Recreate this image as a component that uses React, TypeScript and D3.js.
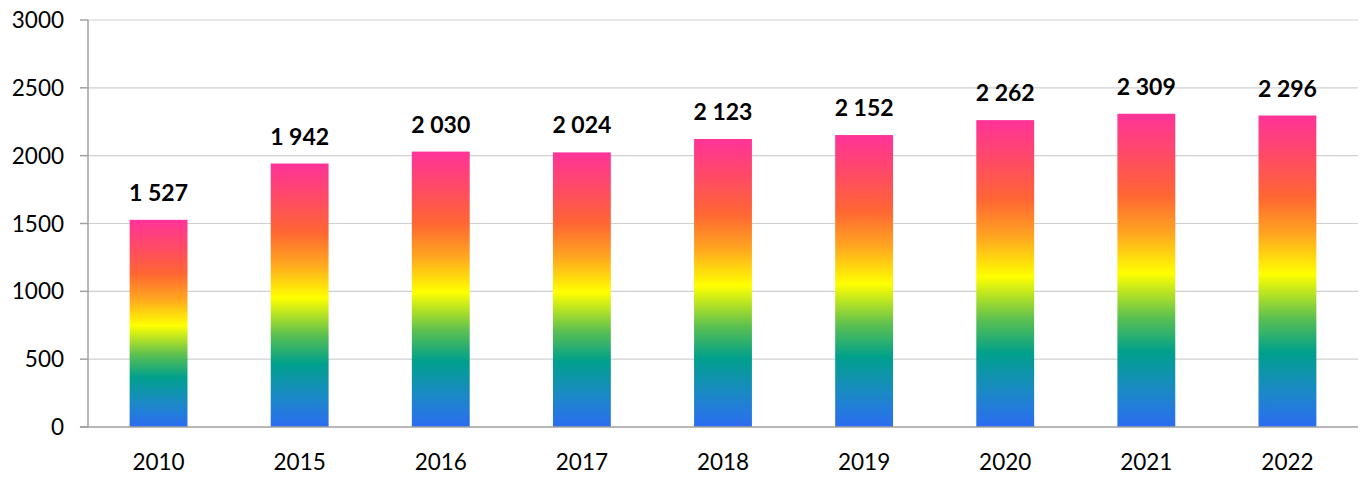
import React from "react";
import * as d3 from "d3";

const categories = ["2010", "2015", "2016", "2017", "2018", "2019", "2020", "2021", "2022"];
const values = [1527, 1942, 2030, 2024, 2123, 2152, 2262, 2309, 2296];
const yTicks = [0, 500, 1000, 1500, 2000, 2500, 3000];

const W = 1364, H = 478;
const M = { left: 88, right: 1358, top: 20, bottom: 427 };

const fmt = (v: number) => {
  const s = String(v);
  return s.length > 3 ? s.slice(0, s.length - 3) + " " + s.slice(-3) : s;
};

export default function App() {
  const x = d3.scaleBand<string>().domain(categories).range([M.left, M.right]).paddingInner(0.59).paddingOuter(0.295);
  const y = d3.scaleLinear().domain([0, 3000]).range([M.bottom, M.top]);
  const font = "Lato, 'Open Sans', sans-serif";
  const stops: [number, string][] = [
    [0, "#2c6cf2"],
    [0.12, "#1a8ac4"],
    [0.24, "#00a08c"],
    [0.35, "#5cc050"],
    [0.49, "#ffff00"],
    [0.62, "#ffa520"],
    [0.74, "#ff6633"],
    [0.87, "#ff4a66"],
    [1, "#ff3399"],
  ];
  return (
    <svg width={W} height={H} style={{ position: "absolute", left: 0, top: 0, background: "#fff" }}>
      <defs>
        <linearGradient id="rb" x1="0" y1="1" x2="0" y2="0">
          {stops.map(([o, c], i) => <stop key={i} offset={o} stopColor={c} />)}
        </linearGradient>
      </defs>
      {yTicks.map(t => (
        <g key={t}>
          {t > 0 && <line x1={M.left} x2={M.right} y1={y(t)} y2={y(t)} stroke="#d0d0d0" strokeWidth={1.2} />}
          <line x1={80} x2={M.left} y1={y(t)} y2={y(t)} stroke="#a0a0a0" strokeWidth={1.5} />
          <text x={64} y={y(t)} dy="0.36em" textAnchor="end" fontFamily={font} fontSize={22.5} fill="#000">{t}</text>
        </g>
      ))}
      <line x1={M.left} x2={M.left} y1={M.top} y2={M.bottom} stroke="#a0a0a0" strokeWidth={1.5} />
      {categories.map((c, i) => (
        <g key={c}>
          <rect x={x(c)} y={y(values[i])} width={x.bandwidth()} height={y(0) - y(values[i])} fill="url(#rb)" />
          <text x={x(c)! + x.bandwidth() / 2} y={y(values[i]) - 19} textAnchor="middle" fontFamily={font} fontWeight="bold" fontSize={23} fill="#000">{fmt(values[i])}</text>
          <text x={x(c)! + x.bandwidth() / 2} y={470} textAnchor="middle" fontFamily={font} fontSize={22.5} fill="#000">{c}</text>
        </g>
      ))}
      <line x1={80} x2={M.right} y1={M.bottom} y2={M.bottom} stroke="#a0a0a0" strokeWidth={1.5} />
    </svg>
  );
}
